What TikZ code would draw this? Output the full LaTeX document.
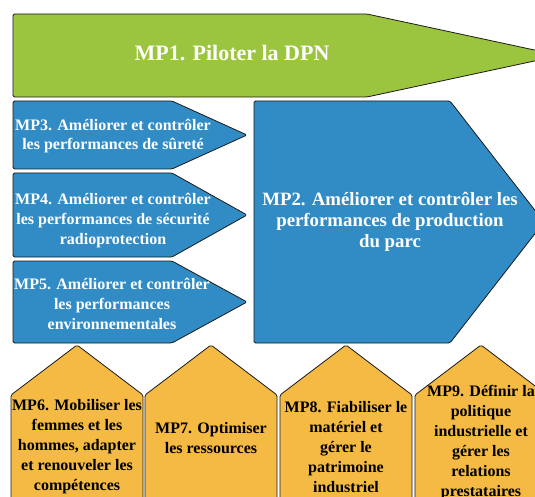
\documentclass[tikz,border=0pt]{standalone}
\usepackage{fontspec}
\setmainfont{Liberation Serif}[BoldFont={Liberation Serif Bold}]
\definecolor{mpgreen}{HTML}{9BC53F}
\definecolor{mpblue}{HTML}{318CC5}
\definecolor{mporange}{HTML}{F5BA44}
\definecolor{mpline}{HTML}{1A1A1A}
\begin{document}
\begin{tikzpicture}[x=1pt,y=-1pt,
  shp/.style={draw=mpline,line width=0.8pt,rounded corners=1.5pt,line join=round},
  wtxt/.style={text=white,font=\rmfamily\bfseries\fontsize{16}{19.5}\selectfont,align=center,inner sep=0pt},
  btxt/.style={text=black,font=\rmfamily\bfseries\fontsize{16}{20}\selectfont,align=center,inner sep=0pt}]
\useasboundingbox (0,0) rectangle (535,497);
\clip (0,0) rectangle (535,497);
% MP1
\path[shp,fill=mpgreen] (13,14) -- (367,14) -- (560,55.5) -- (367,97) -- (13,97) -- cycle;
\node[wtxt,font=\rmfamily\bfseries\fontsize{22}{26}\selectfont] (mp1) at (232,53) {MP1. Piloter la DPN};
% MP3-MP5
\path[shp,fill=mpblue] (13,101) -- (172,101) -- (247,135) -- (172,169) -- (13,169) -- cycle;
\node[wtxt] (mp3) at (113,136) {MP3. Améliorer et contrôler\\les performances de sûreté};
\path[shp,fill=mpblue] (13,173) -- (172,173) -- (247,215) -- (172,257) -- (13,257) -- cycle;
\node[wtxt,font=\rmfamily\bfseries\fontsize{16}{20}\selectfont] (mp4) at (113,221) {MP4. Améliorer et contrôler\\les performances de sécurité\\radioprotection};
\path[shp,fill=mpblue] (13,261) -- (172,261) -- (247,302) -- (172,343) -- (13,343) -- cycle;
\node[wtxt,font=\rmfamily\bfseries\fontsize{16}{20}\selectfont] (mp5) at (112,304) {MP5. Améliorer et contrôler\\les performances\\environnementales};
% MP2
\path[shp,fill=mpblue] (254,101) -- (450,101) -- (544,222) -- (450,343) -- (254,343) -- cycle;
\node[wtxt,font=\rmfamily\bfseries\fontsize{18.8}{20.7}\selectfont] (mp2) at (390,222) {MP2. Améliorer et contrôler les\\performances de production\\du parc};
% bottom
\foreach \c in {77,211,346,481}{
  \path[shp,fill=mporange] (\c-66,520) -- (\c-66,395) -- (\c,345) -- (\c+66,395) -- (\c+66,520) -- cycle;
}
\node[btxt] (mp6) at (77,447) {MP6. Mobiliser les\\femmes et les\\hommes, adapter\\et renouveler les\\compétences};
\node[btxt] (mp7) at (211,438) {MP7. Optimiser\\les ressources};
\node[btxt] (mp8) at (346,447) {MP8. Fiabiliser le\\matériel et\\gérer le\\patrimoine\\industriel};
\node[btxt] (mp9) at (481,443) {MP9. Définir la\\politique\\industrielle et\\gérer les\\relations\\prestataires};
\end{tikzpicture}
\end{document}
